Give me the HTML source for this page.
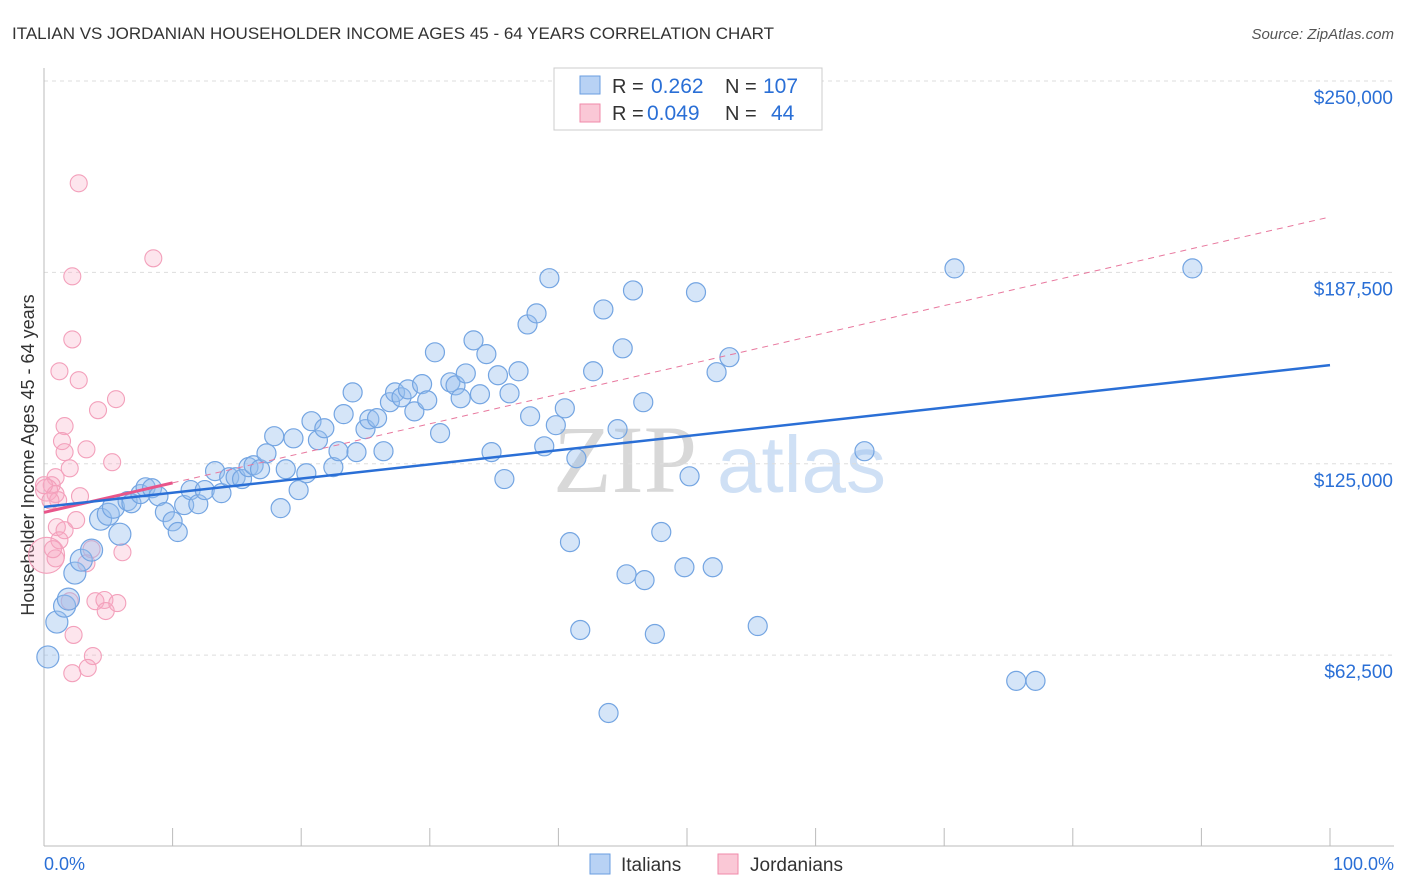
<!DOCTYPE html>
<html><head><meta charset="utf-8"><style>
body{margin:0;background:#fff;font-family:"Liberation Sans",sans-serif;}
#wrap{position:relative;width:1406px;height:892px;overflow:hidden;}
</style></head><body>
<div id="wrap">
<svg id="svg" width="1406" height="892" xmlns="http://www.w3.org/2000/svg">
<text x="12" y="39" font-size="17" fill="#333">ITALIAN VS JORDANIAN HOUSEHOLDER INCOME AGES 45 - 64 YEARS CORRELATION CHART</text>
<text x="1394" y="39" font-size="15" fill="#555" font-style="italic" text-anchor="end">Source: ZipAtlas.com</text>
<text x="553" y="492" font-size="96" fill="#d8d8d8" font-family="Liberation Serif,serif">ZIP</text>
<text x="717" y="492" font-size="80" fill="#cfe0f5">atlas</text>
<text transform="translate(34,455) rotate(-90)" font-size="18" fill="#333" text-anchor="middle">Householder Income Ages 45 - 64 years</text>
<g id="grid"></g><g id="pts"></g><g id="lines"></g>
<g>
<rect x="554" y="68" width="268" height="62" fill="#fff" stroke="#ccc"/>
<rect x="580" y="76" width="20" height="18" fill="#b8d2f4" stroke="#6a9ee0"/>
<rect x="580" y="104" width="20" height="18" fill="#fac8d6" stroke="#f08aaa"/>
<text x="612" y="93" font-size="20" fill="#333">R =</text><text x="651" y="93" font-size="21" fill="#2a6fd6">0.262</text>
<text x="725" y="93" font-size="20" fill="#333">N =</text><text x="763" y="93" font-size="21" fill="#2a6fd6">107</text>
<text x="612" y="120" font-size="20" fill="#333">R =</text><text x="647" y="120" font-size="21" fill="#2a6fd6">0.049</text>
<text x="725" y="120" font-size="20" fill="#333">N =</text><text x="771" y="120" font-size="21" fill="#2a6fd6">44</text>
</g>
<g>
<rect x="590" y="854" width="20" height="20" fill="#b8d2f4" stroke="#6a9ee0"/>
<text x="621" y="871" font-size="19" fill="#333">Italians</text>
<rect x="718" y="854" width="20" height="20" fill="#fac8d6" stroke="#f08aaa"/>
<text x="750" y="871" font-size="19" fill="#333">Jordanians</text>
</g>
<text x="44" y="870" font-size="18" fill="#2a6fd6">0.0%</text>
<text x="1394" y="870" font-size="18" fill="#2a6fd6" text-anchor="end">100.0%</text>
</svg></div>
<script>
const yTicks=[62500,125000,187500,250000];
const yTickLabels=["$62,500","$125,000","$187,500","$250,000"];
const blueX=[0.3,1.0,1.6,1.9,2.4,2.9,3.7,4.4,5.0,5.4,5.9,6.5,6.8,7.5,7.9,8.4,8.9,9.4,10.0,10.4,10.9,11.4,12.0,12.5,13.3,13.8,14.4,14.9,15.4,15.9,16.3,16.8,17.3,17.9,18.4,18.8,19.4,19.8,20.4,20.8,21.3,21.8,22.5,22.9,23.3,24.0,24.3,25.0,25.3,25.9,26.4,26.9,27.3,27.8,28.3,28.8,29.4,29.8,30.4,30.8,31.6,32.0,32.4,32.8,33.4,33.9,34.4,34.8,35.3,35.8,36.2,36.9,37.6,37.8,38.3,38.9,39.3,39.8,40.5,40.9,41.4,41.7,42.7,43.5,43.9,44.6,45.0,45.3,45.8,46.6,46.7,47.5,48.0,49.8,50.2,50.7,52.0,52.3,53.3,55.5,63.8,70.8,75.6,77.1,89.3];
const blueY=[61.9,73.3,78.5,80.8,89.3,93.5,96.8,106.9,108.5,110.8,102.0,112.8,112.1,115.1,117.3,117.0,114.4,109.2,106.2,102.7,111.5,116.4,111.8,116.4,122.6,115.4,120.6,120.6,120.0,123.9,124.5,123.2,128.4,134.0,110.5,123.2,133.3,116.4,121.9,138.9,132.7,136.6,123.9,129.1,141.2,148.3,128.8,136.3,139.5,139.9,129.1,145.1,148.3,146.7,149.3,142.1,151.0,145.7,161.4,135.0,151.6,150.6,146.4,154.5,165.3,147.7,160.8,128.8,153.9,120.0,148.0,155.2,170.5,140.5,174.1,130.7,185.6,137.6,143.1,99.4,126.8,70.7,155.2,175.4,43.6,136.3,162.7,88.9,181.6,145.1,87.0,69.4,102.7,91.2,120.9,181.0,91.2,154.9,159.8,72.0,129.1,188.8,54.1,54.1,188.8];
const pinkX=[2.7,8.5,2.2,2.2,1.2,2.7,4.2,5.6,1.6,1.4,1.6,3.3,5.3,2.0,0.9,0.6,0.2,0.9,1.1,2.8,2.5,1.0,1.6,0.2,3.7,6.1,3.3,2.0,4.0,4.7,4.8,5.7,2.3,3.8,3.4,2.2,1.2,0.9,0.7,0.0,0.5];
const pinkY=[216.6,192.1,186.2,165.6,155.2,152.3,142.5,146.1,137.3,132.4,128.8,129.7,125.5,123.5,120.6,118.0,116.4,115.1,113.1,114.4,106.6,104.3,103.3,95.1,97.1,96.1,92.5,80.1,80.1,80.5,76.9,79.5,69.1,62.2,58.3,56.6,100.0,94.1,97.1,118.0,113.0];
const blueTrend=[110.9,157.2]; // $k at 0% and 100%
const pinkTrend=[109.1,205.6];
const NS="http://www.w3.org/2000/svg";
const X0=44,X1=1330,YB=846.5,YT=81;
const sx=v=>X0+(X1-X0)*v/100;
const sy=v=>YB-(YB-YT)*v/250000;
function mk(tag,attrs,parent){const e=document.createElementNS(NS,tag);for(const k in attrs)e.setAttribute(k,attrs[k]);parent.appendChild(e);return e;}
const grid=document.getElementById('grid');
yTicks.forEach((t,i)=>{
 const l=mk('line',{x1:X0,x2:1394,y1:sy(t),y2:sy(t),stroke:'#ddd','stroke-dasharray':'4,4'},grid);
 
 
 const tx=mk('text',{x:1393,y:sy(t)+23,'font-size':19,fill:'#2a6fd6','text-anchor':'end'},grid);
 tx.textContent=yTickLabels[i];
 
 
});
const ax=mk('line',{x1:X0,x2:X0,y1:68,y2:846,stroke:'#bbb'},grid);


const bx=mk('line',{x1:X0,x2:1394,y1:846,y2:846,stroke:'#bbb'},grid);


for(let i=0;i<=10;i++){const t=mk('line',{x1:sx(i*10),x2:sx(i*10),y1:828,y2:846,stroke:'#bbb'},grid);
 
 }
const pts=document.getElementById('pts');
pinkX.forEach((x,i)=>{const r=i===23?18:(i===16?11:8.5);
 const c=mk('circle',{cx:sx(x),cy:sy(pinkY[i]*1000),r:r,fill:'rgba(248,170,195,0.3)',stroke:'#f3a0bb','stroke-width':1.1},pts);
 
 });
blueX.forEach((x,i)=>{const r=i<11?11:9.5;
 const c=mk('circle',{cx:sx(x),cy:sy(blueY[i]*1000),r:r,fill:'rgba(150,190,238,0.4)',stroke:'#74a5e2','stroke-width':1.2},pts);
 
 });
const lines=document.getElementById('lines');
const pd=mk('line',{x1:sx(10),y1:sy((pinkTrend[0]+(pinkTrend[1]-pinkTrend[0])*0.1)*1000),x2:sx(100),y2:sy(pinkTrend[1]*1000),stroke:'#e8789e','stroke-width':1,'stroke-dasharray':'6,5'},lines);


const ps=mk('line',{x1:sx(0),y1:sy(pinkTrend[0]*1000),x2:sx(10),y2:sy((pinkTrend[0]+(pinkTrend[1]-pinkTrend[0])*0.1)*1000),stroke:'#e8558a','stroke-width':3},lines);


const bl=mk('line',{x1:sx(0),y1:sy(blueTrend[0]*1000),x2:sx(100),y2:sy(blueTrend[1]*1000),stroke:'#2a6fd6','stroke-width':2.5},lines);


</script>
</body></html>
